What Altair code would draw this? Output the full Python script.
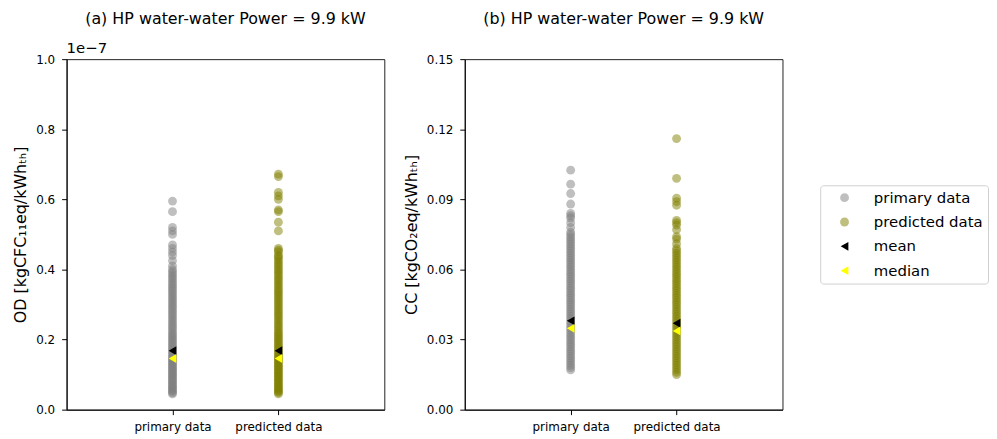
import altair as alt
import pandas as pd

GROUPS = ["primary data", "predicted data"]
SERIES = ["primary data", "predicted data", "mean", "median"]
COLORS = ["rgba(128,128,128,0.5)", "rgba(128,128,0,0.5)", "#000000", "#ffff00"]
SHAPES = ["circle", "circle", "triangle-left", "triangle-left"]
SIZES = [80, 80, 130, 130]

# (a) OD values, in units of 1e-7 kgCFC11eq/kWh_th
od_primary = [0.045, 0.048, 0.052, 0.055, 0.059, 0.063, 0.066, 0.07, 0.074, 0.078,
              0.082, 0.086, 0.09, 0.094, 0.098, 0.102, 0.106, 0.11, 0.114, 0.118,
              0.122, 0.126, 0.13, 0.134, 0.138, 0.142, 0.146, 0.15, 0.155, 0.16,
              0.165, 0.17, 0.175, 0.18, 0.185, 0.19, 0.195, 0.2, 0.205, 0.21,
              0.215, 0.22, 0.226, 0.232, 0.238, 0.244, 0.25, 0.256, 0.262, 0.268,
              0.274, 0.28, 0.286, 0.292, 0.298, 0.304, 0.31, 0.316, 0.322, 0.328,
              0.334, 0.34, 0.346, 0.352, 0.358, 0.364, 0.37, 0.376, 0.382, 0.388,
              0.394, 0.4, 0.41, 0.425, 0.44, 0.45, 0.46, 0.47, 0.5, 0.51,
              0.52, 0.565, 0.595]
od_predicted = [0.045, 0.049, 0.052, 0.056, 0.06, 0.063, 0.067, 0.071, 0.075, 0.079,
                0.083, 0.087, 0.091, 0.095, 0.099, 0.103, 0.107, 0.111, 0.115, 0.119,
                0.123, 0.127, 0.131, 0.135, 0.139, 0.143, 0.147, 0.151, 0.156, 0.161,
                0.166, 0.171, 0.176, 0.181, 0.186, 0.191, 0.196, 0.201, 0.206, 0.211,
                0.216, 0.221, 0.227, 0.233, 0.239, 0.245, 0.251, 0.257, 0.263, 0.269,
                0.275, 0.281, 0.287, 0.293, 0.299, 0.305, 0.311, 0.317, 0.323, 0.329,
                0.335, 0.341, 0.347, 0.353, 0.359, 0.365, 0.371, 0.377, 0.383, 0.389,
                0.395, 0.401, 0.407, 0.413, 0.419, 0.425, 0.431, 0.437, 0.44, 0.45,
                0.455, 0.46, 0.51, 0.535, 0.565, 0.57, 0.6, 0.61, 0.62, 0.665,
                0.672]
od_mean = [0.168, 0.168]      # primary, predicted
od_median = [0.146, 0.146]

# (b) CC values, kgCO2eq/kWh_th
cc_primary = [0.017, 0.018, 0.019, 0.02, 0.021, 0.022, 0.023, 0.024, 0.025, 0.026,
              0.027, 0.028, 0.029, 0.03, 0.031, 0.032, 0.033, 0.034, 0.035, 0.036,
              0.037, 0.038, 0.039, 0.04, 0.041, 0.042, 0.043, 0.044, 0.045, 0.046,
              0.047, 0.048, 0.049, 0.05, 0.051, 0.052, 0.053, 0.054, 0.055, 0.056,
              0.057, 0.058, 0.059, 0.06, 0.061, 0.062, 0.063, 0.064, 0.065, 0.066,
              0.067, 0.068, 0.069, 0.07, 0.071, 0.072, 0.073, 0.074, 0.075, 0.076,
              0.078, 0.08, 0.082, 0.083, 0.084, 0.088, 0.0925, 0.0965, 0.1025]
cc_predicted = [0.015, 0.016, 0.017, 0.018, 0.019, 0.02, 0.021, 0.022, 0.023, 0.024,
                0.025, 0.026, 0.027, 0.028, 0.029, 0.03, 0.031, 0.032, 0.033, 0.034,
                0.035, 0.036, 0.037, 0.038, 0.039, 0.04, 0.041, 0.042, 0.043, 0.044,
                0.045, 0.046, 0.047, 0.048, 0.049, 0.05, 0.051, 0.052, 0.053, 0.054,
                0.055, 0.056, 0.057, 0.058, 0.059, 0.06, 0.061, 0.062, 0.063, 0.064,
                0.065, 0.066, 0.067, 0.068, 0.069, 0.071, 0.073, 0.074, 0.077, 0.079,
                0.08, 0.081, 0.0875, 0.089, 0.0905, 0.099, 0.116]
cc_mean = [0.038, 0.037]
cc_median = [0.0348, 0.0337]

OD_TICKS = [0.0, 0.2, 0.4, 0.6, 0.8, 1.0]
CC_TICKS = [0.0, 0.03, 0.06, 0.09, 0.12, 0.15]


def make_df(prim, pred, mean, median):
    rows = []
    for v in prim:
        rows.append({"group": GROUPS[0], "series": "primary data", "value": v})
    for v in pred:
        rows.append({"group": GROUPS[1], "series": "predicted data", "value": v})
    for g, v in zip(GROUPS, mean):
        rows.append({"group": g, "series": "mean", "value": v})
    for g, v in zip(GROUPS, median):
        rows.append({"group": g, "series": "median", "value": v})
    return pd.DataFrame(rows)


legend = alt.Legend(title=None, orient="none", legendX=759, legendY=127,
                    symbolSize=55, labelFontSize=15, rowPadding=8.5,
                    strokeColor="#d0d0d0", padding=5, cornerRadius=3,
                    symbolStrokeWidth=0, symbolOffset=12, labelOffset=22)


def panel(df, ticks, fmt, ytitle, title, title_offset, extra=None):
    base = alt.Chart(df).mark_point(filled=True, strokeWidth=0, opacity=1).encode(
        x=alt.X("group:N", sort=GROUPS,
                scale=alt.Scale(type="point", padding=1, domain=GROUPS),
                axis=alt.Axis(title=None, labelAngle=0)),
        y=alt.Y("value:Q", scale=alt.Scale(domain=[ticks[0], ticks[-1]], nice=False),
                axis=alt.Axis(values=ticks, format=fmt, title=ytitle)),
        color=alt.Color("series:N", scale=alt.Scale(domain=SERIES, range=COLORS), legend=legend),
        shape=alt.Shape("series:N", scale=alt.Scale(domain=SERIES, range=SHAPES), legend=legend),
        size=alt.Size("series:N", scale=alt.Scale(domain=SERIES, range=SIZES), legend=None),
    )
    layers = [base]
    if extra:
        t = alt.Chart(pd.DataFrame({"t": [extra]})).mark_text(
            align="left", baseline="alphabetic", fontSize=15, font="DejaVu Sans", color="black"
        ).encode(x=alt.value(0), y=alt.value(-6), text="t:N")
        layers.append(t)
    return alt.layer(*layers).properties(
        width=320, height=353,
        title=alt.TitleParams(title, fontSize=16, fontWeight="normal", font="DejaVu Sans",
                              anchor="middle", offset=title_offset, color="black"))


pa = panel(make_df(od_primary, od_predicted, od_mean, od_median), OD_TICKS, ".1f",
           "OD [kgCFC₁₁eq/kWhₜₕ]", "(a) HP water-water Power = 9.9 kW", 14, extra="1e−7")
pb = panel(make_df(cc_primary, cc_predicted, cc_mean, cc_median), CC_TICKS, ".2f",
           "CC [kgCO₂eq/kWhₜₕ]", "(b) HP water-water Power = 9.9 kW", 26)

chart = alt.hconcat(pa, pb, spacing=17).properties(
    padding={"left": 4, "top": 1, "right": 0, "bottom": 0}
).configure_view(
    stroke="#222222", strokeWidth=1
).configure_axis(
    labelFont="DejaVu Sans", titleFont="DejaVu Sans", labelFontSize=12, titleFontSize=16,
    titleFontWeight="normal", labelColor="black", titleColor="black",
    tickColor="black", domainColor="black", tickSize=5, grid=False, labelPadding=7,
    titlePadding=7
).configure_legend(
    labelFont="DejaVu Sans", labelColor="black"
)

chart.save("out.html", embed_options={"renderer": "svg", "actions": False})
